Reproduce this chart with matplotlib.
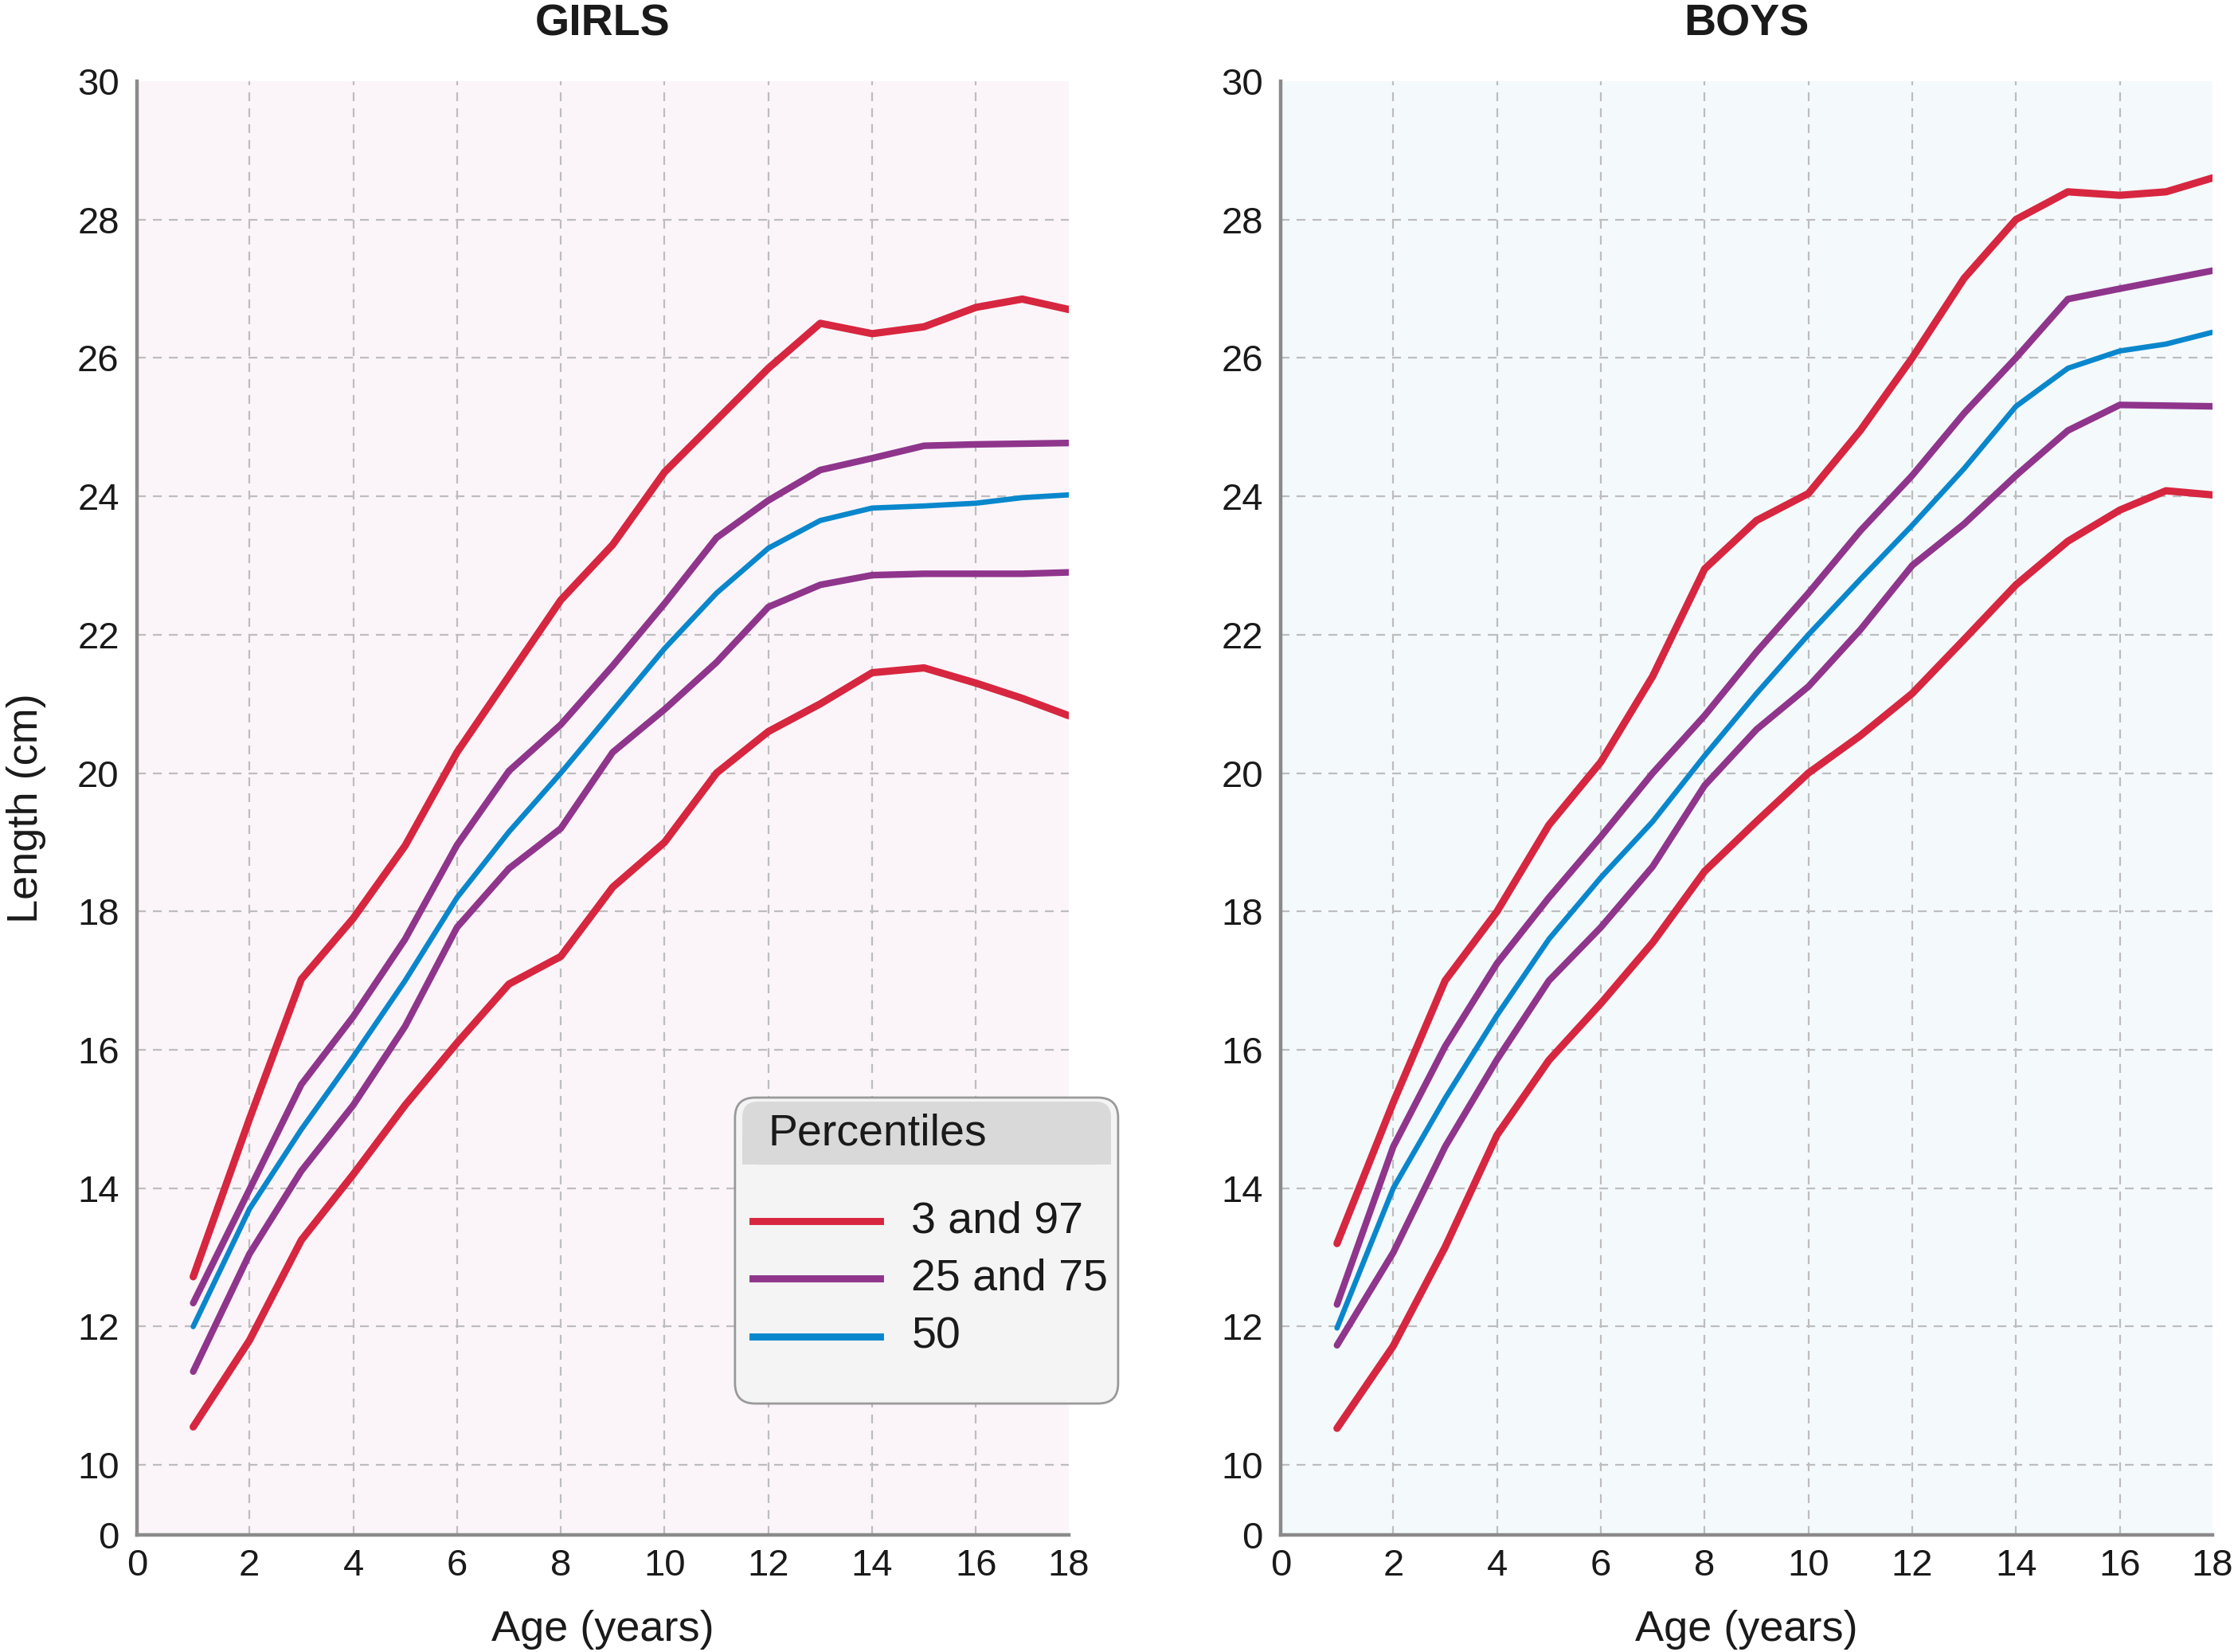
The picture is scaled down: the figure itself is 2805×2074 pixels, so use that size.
import numpy as np
import matplotlib.pyplot as plt
from matplotlib.patches import FancyBboxPatch, Rectangle
from matplotlib.lines import Line2D

plt.rcParams['font.family'] = ['Liberation Sans', 'DejaVu Sans']

# ages in years
ages = np.arange(1, 19)

# GIRLS - length (cm) by percentile
girls_p3 = [10.55, 11.8, 13.25, 14.2, 15.2, 16.1, 16.95, 17.35, 18.35, 19.0,
            20.0, 20.6, 21.0, 21.45, 21.52, 21.3, 21.08, 20.83]
girls_p25 = [11.35, 13.05, 14.25, 15.2, 16.34, 17.77, 18.62, 19.2, 20.3, 20.92,
             21.6, 22.4, 22.72, 22.86, 22.88, 22.88, 22.88, 22.9]
girls_p50 = [12.0, 13.7, 14.85, 15.9, 17.0, 18.2, 19.15, 20.0, 20.9, 21.8,
             22.6, 23.25, 23.65, 23.83, 23.86, 23.9, 23.98, 24.02]
girls_p75 = [12.34, 13.98, 15.5, 16.48, 17.6, 18.96, 20.03, 20.7, 21.55, 22.45,
             23.4, 23.94, 24.38, 24.55, 24.73, 24.75, 24.76, 24.77]
girls_p97 = [12.72, 15.0, 17.02, 17.9, 18.95, 20.3, 21.4, 22.5, 23.3, 24.35,
             25.1, 25.85, 26.5, 26.35, 26.45, 26.73, 26.85, 26.7]

# BOYS - length (cm) by percentile
boys_p3 = [10.53, 11.72, 13.15, 14.77, 15.85, 16.67, 17.55, 18.58, 19.3, 20.0,
           20.54, 21.15, 21.93, 22.72, 23.35, 23.8, 24.08, 24.02]
boys_p25 = [11.73, 13.07, 14.6, 15.86, 17.0, 17.77, 18.65, 19.82, 20.63, 21.25,
            22.07, 23.0, 23.6, 24.3, 24.95, 25.32, 25.31, 25.3]
boys_p50 = [11.98, 14.0, 15.3, 16.5, 17.6, 18.49, 19.3, 20.25, 21.15, 22.0,
            22.8, 23.58, 24.4, 25.3, 25.85, 26.1, 26.2, 26.37]
boys_p75 = [12.32, 14.6, 16.05, 17.25, 18.2, 19.08, 20.0, 20.83, 21.75, 22.6,
            23.5, 24.3, 25.2, 26.0, 26.85, 27.0, 27.13, 27.26]
boys_p97 = [13.2, 15.24, 17.0, 18.0, 19.25, 20.16, 21.4, 22.95, 23.65, 24.04,
            24.95, 26.0, 27.15, 28.0, 28.4, 28.35, 28.4, 28.6]

legend_labels = ['3 and 97', '25 and 75', '50']
y_ticks = [0, 10, 12, 14, 16, 18, 20, 22, 24, 26, 28, 30]
x_ticks = [0, 2, 4, 6, 8, 10, 12, 14, 16, 18]

RED = '#D7263F'
PURPLE = '#8F358C'
BLUE = '#0A87CC'


# broken y axis: 0-10 squeezed into a small band
def y_fwd(y):
    y = np.asarray(y, dtype=float)
    return np.where(y >= 10, y, 10 - (10 - y) * 0.101)


def y_inv(y):
    y = np.asarray(y, dtype=float)
    return np.where(y >= 10, y, 10 - (10 - y) / 0.101)


# x axis is slightly wider in 0-2 and narrower in 16-18
def x_fwd(x):
    x = np.asarray(x, dtype=float)
    return np.where(x < 2, 2 - (2 - x) * 1.084, np.where(x > 16, 16 + (x - 16) * 0.892, x))


def x_inv(x):
    x = np.asarray(x, dtype=float)
    return np.where(x < 2, 2 - (2 - x) / 1.084, np.where(x > 16, 16 + (x - 16) / 0.892, x))


fig = plt.figure(figsize=(14.025, 10.37), dpi=200)

panels = [
    ('GIRLS', [0.0613, 0.0709, 0.417, 0.880], '#FBF5F9',
     girls_p3, girls_p25, girls_p50, girls_p75, girls_p97),
    ('BOYS', [0.5733, 0.0709, 0.417, 0.880], '#F4F9FC',
     boys_p3, boys_p25, boys_p50, boys_p75, boys_p97),
]

axes = []
for title, rect, bg, p3, p25, p50, p75, p97 in panels:
    ax = fig.add_axes(rect)
    ax.set_facecolor(bg)
    ax.set_xscale('function', functions=(x_fwd, x_inv))
    ax.set_yscale('function', functions=(y_fwd, y_inv))
    ax.set_xlim(0, 18)
    ax.set_ylim(0, 30)

    for v in [2, 4, 6, 8, 10, 12, 14, 16]:
        ax.axvline(v, color='#BDBDBD', lw=0.8, ls=(0, (5, 4)), zorder=1)
    for v in [10, 12, 14, 16, 18, 20, 22, 24, 26, 28]:
        ax.axhline(v, color='#BDBDBD', lw=0.8, ls=(0, (5, 4)), zorder=1)

    ax.plot(ages, p3, color=RED, lw=3.3, solid_capstyle='round', solid_joinstyle='round', zorder=3)
    ax.plot(ages, p97, color=RED, lw=3.3, solid_capstyle='round', solid_joinstyle='round', zorder=3)
    ax.plot(ages, p25, color=PURPLE, lw=3.0, solid_capstyle='round', solid_joinstyle='round', zorder=3)
    ax.plot(ages, p75, color=PURPLE, lw=3.0, solid_capstyle='round', solid_joinstyle='round', zorder=3)
    ax.plot(ages, p50, color=BLUE, lw=2.4, solid_capstyle='round', solid_joinstyle='round', zorder=3)

    ax.set_xticks(x_ticks)
    ax.set_xticklabels([str(t) for t in x_ticks])
    ax.set_yticks(y_ticks)
    ax.set_yticklabels([str(t) for t in y_ticks])
    ax.xaxis.set_minor_locator(plt.NullLocator())
    ax.yaxis.set_minor_locator(plt.NullLocator())
    ax.tick_params(length=0, labelsize=17, colors='#1A1A1A')
    ax.tick_params(axis='y', pad=8)
    ax.tick_params(axis='x', pad=6)

    for s in ['top', 'right']:
        ax.spines[s].set_visible(False)
    for s in ['left', 'bottom']:
        ax.spines[s].set_color('#8A8A8A')
        ax.spines[s].set_linewidth(1.6)

    ax.set_xlabel('Age (years)', fontsize=19.5, labelpad=12, color='#1A1A1A')
    cx = rect[0] + rect[2] / 2
    fig.text(cx, 0.9855, title, ha='center', va='center', fontsize=20,
             fontweight='bold', color='#1A1A1A')
    axes.append(ax)

axes[0].set_ylabel('Length (cm)', fontsize=19.5, labelpad=14, color='#1A1A1A')

# legend box
asp = 2805 / 2074
box = FancyBboxPatch((0.329, 0.1504), 0.1715, 0.1852,
                     boxstyle='round,pad=0,rounding_size=0.009', mutation_aspect=asp,
                     transform=fig.transFigure, facecolor='#F4F4F4',
                     edgecolor='#9A9A9A', lw=1.0, zorder=5)
fig.add_artist(box)
head = FancyBboxPatch((0.3323, 0.295), 0.165, 0.0382,
                      boxstyle='round,pad=0,rounding_size=0.007', mutation_aspect=asp,
                      transform=fig.transFigure, facecolor='#D9D9D9',
                      edgecolor='none', zorder=6)
fig.add_artist(head)
fig.add_artist(Rectangle((0.3323, 0.295), 0.165, 0.015, transform=fig.transFigure,
                         facecolor='#D9D9D9', edgecolor='none', zorder=6))
fig.text(0.3437, 0.3135, 'Percentiles', ha='left', va='center', fontsize=20,
         color='#1A1A1A', zorder=7)

leg_colors = [RED, PURPLE, BLUE]
leg_y = [0.2608, 0.2261, 0.1909]
for lab, col, yy in zip(legend_labels, leg_colors, leg_y):
    fig.add_artist(Line2D([0.337, 0.394], [yy, yy], transform=fig.transFigure,
                          color=col, lw=3.2, zorder=7))
    fig.text(0.408, yy, lab, ha='left', va='center', fontsize=20,
             color='#1A1A1A', zorder=7)

fig.savefig('out.png', dpi=200)
